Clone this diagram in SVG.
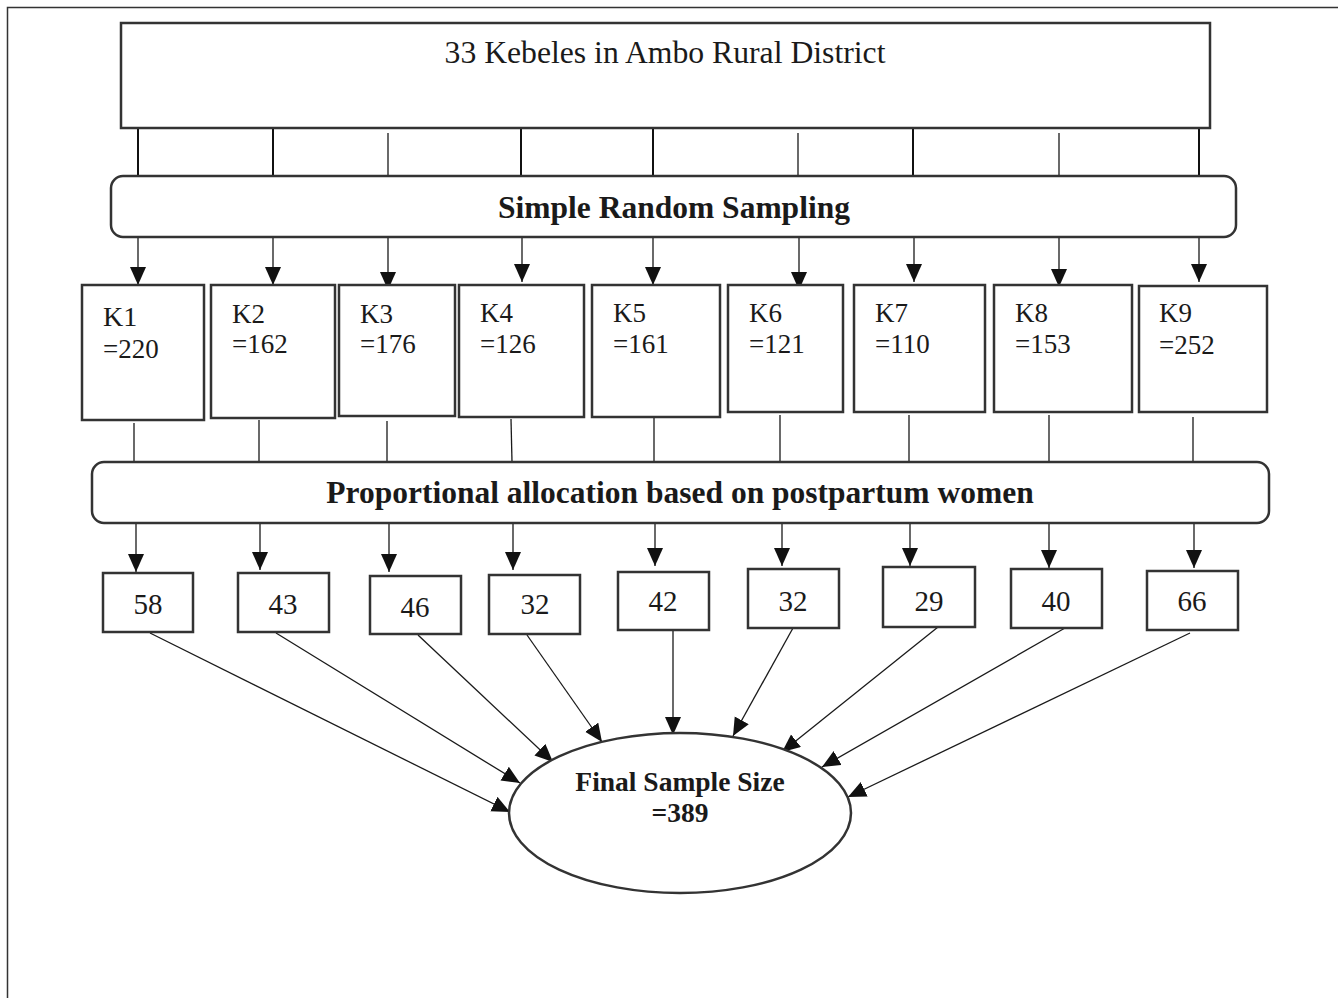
<svg xmlns="http://www.w3.org/2000/svg" width="1338" height="998" viewBox="0 0 1338 998">
<defs>
<marker id="ah" markerUnits="userSpaceOnUse" markerWidth="20" markerHeight="18" refX="18" refY="8" orient="auto">
<path d="M0,0 L18,8 L0,16 z" fill="#111"/>
</marker>
<style>
.box{fill:#fff;stroke:#333;stroke-width:2.5}
.t{font-family:"Liberation Serif","Times New Roman",serif;fill:#1a1a1a}
.b{font-weight:bold}
.ln{stroke:#1a1a1a;stroke-width:1.3;fill:none}
.lnb{stroke:#111;stroke-width:2;fill:none}
.ar{stroke:#1a1a1a;stroke-width:1.3;fill:none;marker-end:url(#ah)}
</style>
</defs>
<rect width="1338" height="998" fill="#fff"/>
<path d="M7.5,998 V7.5 H1338" fill="none" stroke="#333" stroke-width="1.5"/>

<g id="connectors">
<line class="lnb" x1="138" y1="129" x2="138" y2="176"/>
<line class="lnb" x1="273" y1="129" x2="273" y2="176"/>
<line class="ln" x1="388" y1="133" x2="388" y2="176"/>
<line class="lnb" x1="521" y1="129" x2="521" y2="176"/>
<line class="lnb" x1="653" y1="129" x2="653" y2="176"/>
<line class="ln" x1="798" y1="133" x2="798" y2="176"/>
<line class="lnb" x1="913" y1="129" x2="913" y2="176"/>
<line class="ln" x1="1059" y1="133" x2="1059" y2="176"/>
<line class="lnb" x1="1199" y1="125" x2="1199" y2="176"/>

<line class="ar" x1="138" y1="237" x2="138" y2="285"/>
<line class="ar" x1="273" y1="237" x2="273" y2="285"/>
<line class="ar" x1="388" y1="237" x2="388" y2="290"/>
<line class="ar" x1="522" y1="237" x2="522" y2="282"/>
<line class="ar" x1="653" y1="237" x2="653" y2="285"/>
<line class="ar" x1="799" y1="237" x2="799" y2="290"/>
<line class="ar" x1="914" y1="237" x2="914" y2="282"/>
<line class="ar" x1="1059" y1="237" x2="1059" y2="287"/>
<line class="ar" x1="1199" y1="237" x2="1199" y2="282"/>

<line class="ln" x1="134" y1="423" x2="134" y2="462"/>
<line class="ln" x1="259" y1="420" x2="259" y2="462"/>
<line class="ln" x1="387" y1="421" x2="387" y2="462"/>
<line class="ln" x1="511" y1="419" x2="512" y2="462"/>
<line class="ln" x1="654" y1="416" x2="654" y2="462"/>
<line class="ln" x1="780" y1="415" x2="780" y2="462"/>
<line class="ln" x1="909" y1="415" x2="909" y2="462"/>
<line class="ln" x1="1049" y1="415" x2="1049" y2="462"/>
<line class="ln" x1="1193" y1="417" x2="1193" y2="462"/>

<line class="ar" x1="136" y1="523" x2="136" y2="572"/>
<line class="ar" x1="260" y1="523" x2="260" y2="570"/>
<line class="ar" x1="389" y1="523" x2="389" y2="572"/>
<line class="ar" x1="513" y1="523" x2="513" y2="570"/>
<line class="ar" x1="655" y1="523" x2="655" y2="566"/>
<line class="ar" x1="782" y1="523" x2="782" y2="566"/>
<line class="ar" x1="910" y1="523" x2="910" y2="566"/>
<line class="ar" x1="1049" y1="523" x2="1049" y2="568"/>
<line class="ar" x1="1194" y1="523" x2="1194" y2="568"/>

<line class="ar" x1="150" y1="633" x2="510" y2="812"/>
<line class="ar" x1="276" y1="633" x2="520" y2="783"/>
<line class="ar" x1="418" y1="635" x2="553" y2="762"/>
<line class="ar" x1="527" y1="635" x2="602" y2="742"/>
<line class="ar" x1="673" y1="625" x2="673" y2="735"/>
<line class="ar" x1="793" y1="628" x2="733" y2="736"/>
<line class="ar" x1="938" y1="627" x2="782" y2="752"/>
<line class="ar" x1="1065" y1="628" x2="822" y2="767"/>
<line class="ar" x1="1190" y1="633" x2="848" y2="797"/>
</g>

<g id="top">
<rect class="box" x="121" y="23" width="1089" height="105"/>
<text class="t" x="665" y="63" font-size="31.7" text-anchor="middle">33 Kebeles in Ambo Rural District</text>
</g>
<g id="srs">
<rect class="box" x="111" y="176" width="1125" height="61" rx="12"/>
<text class="t b" x="674" y="218" font-size="31.5" text-anchor="middle">Simple Random Sampling</text>
</g>

<g id="k1"><rect class="box" x="82" y="285" width="122" height="135"/><text class="t" x="103" y="326" font-size="28">K1</text><text class="t" x="103" y="358" font-size="27">=220</text></g>
<g id="k2"><rect class="box" x="211" y="285" width="124" height="133"/><text class="t" x="232" y="323" font-size="27">K2</text><text class="t" x="232" y="353" font-size="27">=162</text></g>
<g id="k3"><rect class="box" x="339" y="285" width="116" height="131"/><text class="t" x="360" y="323" font-size="27">K3</text><text class="t" x="360" y="353" font-size="27">=176</text></g>
<g id="k4"><rect class="box" x="459" y="285" width="125" height="132"/><text class="t" x="480" y="322" font-size="27">K4</text><text class="t" x="480" y="353" font-size="27">=126</text></g>
<g id="k5"><rect class="box" x="592" y="285" width="128" height="132"/><text class="t" x="613" y="322" font-size="27">K5</text><text class="t" x="613" y="353" font-size="27">=161</text></g>
<g id="k6"><rect class="box" x="728" y="285" width="115" height="127"/><text class="t" x="749" y="322" font-size="27">K6</text><text class="t" x="749" y="353" font-size="27">=121</text></g>
<g id="k7"><rect class="box" x="854" y="285" width="131" height="127"/><text class="t" x="875" y="322" font-size="27">K7</text><text class="t" x="875" y="353" font-size="27">=110</text></g>
<g id="k8"><rect class="box" x="994" y="285" width="138" height="127"/><text class="t" x="1015" y="322" font-size="27">K8</text><text class="t" x="1015" y="353" font-size="27">=153</text></g>
<g id="k9"><rect class="box" x="1139" y="286" width="128" height="126"/><text class="t" x="1159" y="322" font-size="27">K9</text><text class="t" x="1159" y="354" font-size="27">=252</text></g>

<g id="pa">
<rect class="box" x="92" y="462" width="1177" height="61" rx="12"/>
<text class="t b" x="680" y="503" font-size="31.5" text-anchor="middle">Proportional allocation based on postpartum women</text>
</g>

<g id="n1"><rect class="box" x="103" y="573" width="90" height="59"/><text class="t" x="148" y="614" font-size="29" text-anchor="middle">58</text></g>
<g id="n2"><rect class="box" x="238" y="573" width="91" height="59"/><text class="t" x="283" y="614" font-size="29" text-anchor="middle">43</text></g>
<g id="n3"><rect class="box" x="370" y="576" width="91" height="58"/><text class="t" x="415" y="617" font-size="29" text-anchor="middle">46</text></g>
<g id="n4"><rect class="box" x="489" y="575" width="91" height="59"/><text class="t" x="535" y="614" font-size="29" text-anchor="middle">32</text></g>
<g id="n5"><rect class="box" x="618" y="572" width="91" height="58"/><text class="t" x="663" y="611" font-size="29" text-anchor="middle">42</text></g>
<g id="n6"><rect class="box" x="748" y="569" width="91" height="59"/><text class="t" x="793" y="611" font-size="29" text-anchor="middle">32</text></g>
<g id="n7"><rect class="box" x="883" y="567" width="92" height="60"/><text class="t" x="929" y="611" font-size="29" text-anchor="middle">29</text></g>
<g id="n8"><rect class="box" x="1011" y="569" width="91" height="59"/><text class="t" x="1056" y="611" font-size="29" text-anchor="middle">40</text></g>
<g id="n9"><rect class="box" x="1147" y="571" width="91" height="59"/><text class="t" x="1192" y="611" font-size="29" text-anchor="middle">66</text></g>

<g id="final">
<ellipse class="box" cx="680" cy="813" rx="171" ry="80"/>
<text class="t b" x="680" y="791" font-size="27.5" text-anchor="middle">Final Sample Size</text>
<text class="t b" x="680" y="822" font-size="27.5" text-anchor="middle">=389</text>
</g>
</svg>
